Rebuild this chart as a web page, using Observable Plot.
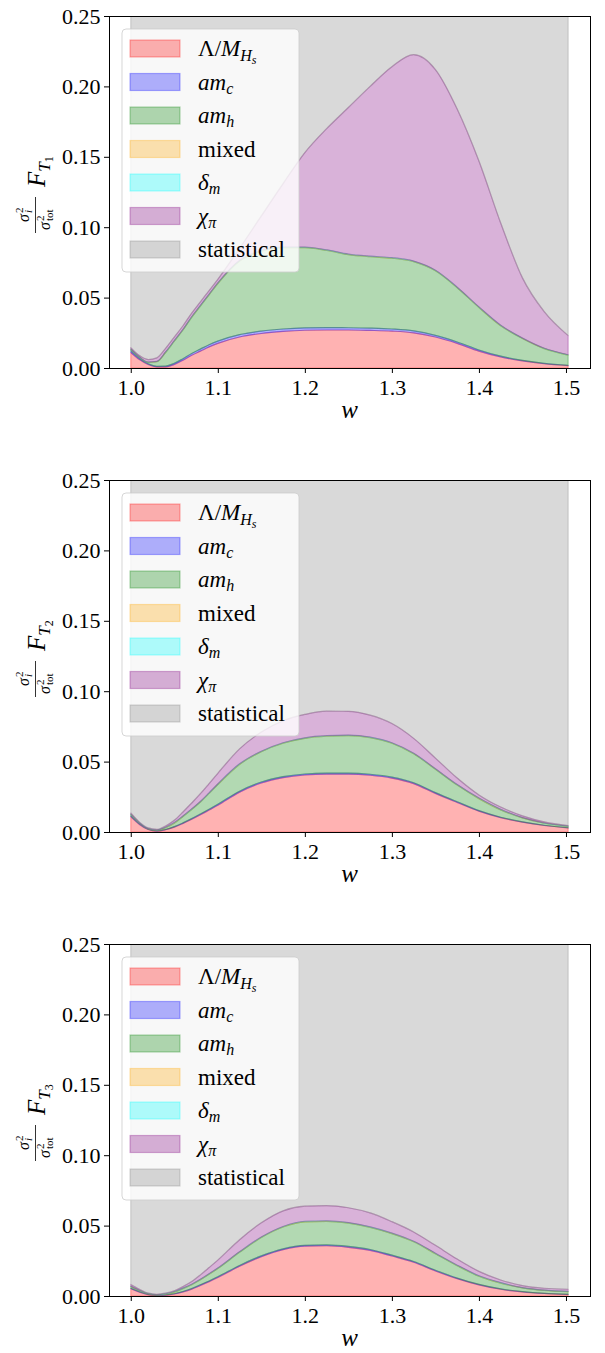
<!DOCTYPE html>
<html><head><meta charset="utf-8">
<script src="https://cdn.jsdelivr.net/npm/d3@7"></script>
<script src="https://cdn.jsdelivr.net/npm/@observablehq/plot@0.6"></script>
<style>
body{margin:0;background:#fff;}
#chart{width:605px;}
#chart svg{display:block;}
</style>
</head><body><div id="chart"></div>
<script>
// ---- data (fractions sigma_i^2 / sigma_tot^2) ----
const w = [1.000,1.010,1.020,1.030,1.040,1.050,1.060,1.070,1.080,1.090,1.100,1.125,1.150,1.175,1.200,1.225,1.250,1.275,1.300,1.325,1.350,1.375,1.400,1.425,1.450,1.475,1.5025];

// F_T1
const lam1   = [0.011,0.006,0.0025,0.0008,0.0008,0.0025,0.0055,0.009,0.012,0.015,0.0175,0.022,0.0245,0.026,0.0268,0.027,0.027,0.0267,0.0262,0.025,0.022,0.0175,0.012,0.0078,0.005,0.003,0.0017];
const amc1   = [0.0012,0.0008,0.0005,0.0004,0.0005,0.0008,0.0011,0.0013,0.0014,0.0015,0.0016,0.0017,0.0017,0.0017,0.0017,0.0017,0.0016,0.0016,0.0015,0.0014,0.0012,0.0010,0.0008,0.0006,0.0004,0.0003,0.0002];
const amh1   = [0.0011,0.0008,0.0010,0.0033,0.0097,0.0157,0.0204,0.0257,0.0306,0.0355,0.0409,0.0523,0.0568,0.0578,0.0570,0.0548,0.0519,0.0507,0.0503,0.0491,0.0458,0.0385,0.0302,0.0216,0.0156,0.0105,0.0073];
const mixed1 = [0.0001,0.0001,0.0001,0.0001,0.0002,0.0002,0.0002,0.0002,0.0002,0.0002,0.0002,0.0002,0.0002,0.0002,0.0002,0.0002,0.0002,0.0002,0.0002,0.0002,0.0002,0.0002,0.0002,0.0002,0.0001,0.0001,0.0001];
const dm1    = [0.0001,0.0001,0.0001,0.0001,0.0002,0.0002,0.0002,0.0002,0.0002,0.0002,0.0002,0.0002,0.0002,0.0002,0.0002,0.0002,0.0002,0.0002,0.0002,0.0002,0.0002,0.0002,0.0002,0.0002,0.0001,0.0001,0.0001];
const chi1   = [0.0010,0.0010,0.0018,0.0025,0.0026,0.0026,0.0026,0.0026,0.0026,0.0026,0.0026,0.0086,0.0246,0.0451,0.0671,0.0861,0.1041,0.1206,0.1356,0.1466,0.1426,0.1266,0.1036,0.0726,0.0428,0.0260,0.0136];
const stat1  = [0.9855,0.9912,0.994,0.9928,0.986,0.978,0.970,0.961,0.953,0.945,0.937,0.915,0.892,0.869,0.847,0.830,0.815,0.800,0.786,0.7775,0.788,0.816,0.853,0.897,0.936,0.960,0.977];

// F_T2
const lam2   = [0.0109,0.0054,0.0018,0.0006,0.0016,0.0035,0.0061,0.0090,0.0122,0.0156,0.0190,0.0283,0.0348,0.0386,0.0405,0.0411,0.0411,0.0403,0.0383,0.0344,0.0274,0.0210,0.0148,0.0102,0.0070,0.0046,0.0029];
const amc2   = [0.0006,0.0004,0.0002,0.0002,0.0002,0.0003,0.0004,0.0005,0.0006,0.0006,0.0007,0.0007,0.0007,0.0007,0.0007,0.0007,0.0007,0.0007,0.0007,0.0006,0.0006,0.0005,0.0004,0.0003,0.0002,0.0002,0.0001];
const amh2   = [0.0010,0.0004,0.0002,0.0004,0.0012,0.0025,0.0045,0.0065,0.0085,0.0112,0.0140,0.0190,0.0215,0.0237,0.0253,0.0262,0.0266,0.0260,0.0240,0.0205,0.0165,0.0118,0.0085,0.0052,0.0028,0.0014,0.0010];
const mixed2 = [0.0001,0.0001,0.0001,0.0001,0.0002,0.0002,0.0002,0.0002,0.0002,0.0002,0.0002,0.0002,0.0002,0.0002,0.0002,0.0002,0.0002,0.0002,0.0002,0.0002,0.0002,0.0002,0.0002,0.0002,0.0001,0.0001,0.0001];
const dm2    = [0.0001,0.0001,0.0001,0.0001,0.0002,0.0002,0.0002,0.0002,0.0002,0.0002,0.0002,0.0002,0.0002,0.0002,0.0002,0.0002,0.0002,0.0002,0.0002,0.0002,0.0002,0.0002,0.0002,0.0002,0.0001,0.0001,0.0001];
const chi2   = [0.0008,0.0006,0.0005,0.0005,0.0009,0.0016,0.0028,0.0042,0.0055,0.0066,0.0076,0.0106,0.0136,0.0156,0.0166,0.0174,0.0169,0.0156,0.0136,0.0106,0.0076,0.0046,0.0022,0.0016,0.0013,0.0008,0.0004];
const stat2  = [0.9865,0.993,0.997,0.9982,0.9968,0.991,0.986,0.979,0.972,0.965,0.958,0.941,0.929,0.921,0.9165,0.914,0.9143,0.917,0.923,0.934,0.947,0.962,0.974,0.9825,0.9885,0.9928,0.9955];

// F_T3
const lam3   = [0.0051,0.0027,0.0010,0.0004,0.0006,0.0014,0.0029,0.0049,0.0075,0.0102,0.0131,0.0211,0.0279,0.0329,0.0354,0.0357,0.0346,0.0324,0.0284,0.0240,0.0178,0.0123,0.0079,0.0048,0.0029,0.0018,0.0011];
const amc3   = [0.0004,0.0003,0.0002,0.0001,0.0002,0.0002,0.0003,0.0004,0.0005,0.0005,0.0006,0.0006,0.0006,0.0006,0.0006,0.0006,0.0006,0.0006,0.0006,0.0005,0.0005,0.0004,0.0003,0.0002,0.0002,0.0001,0.0001];
const amh3   = [0.0013,0.0008,0.0003,0.0002,0.0005,0.0012,0.0020,0.0027,0.0035,0.0047,0.0058,0.0093,0.0130,0.0155,0.0167,0.0167,0.0165,0.0157,0.0153,0.0140,0.0117,0.0088,0.0058,0.0041,0.0027,0.0021,0.0019];
const mixed3 = [0.0001,0.0001,0.0001,0.0001,0.0002,0.0002,0.0002,0.0002,0.0002,0.0002,0.0002,0.0002,0.0002,0.0002,0.0002,0.0002,0.0002,0.0002,0.0002,0.0002,0.0002,0.0002,0.0002,0.0002,0.0001,0.0001,0.0001];
const dm3    = [0.0001,0.0001,0.0001,0.0001,0.0002,0.0002,0.0002,0.0002,0.0002,0.0002,0.0002,0.0002,0.0002,0.0002,0.0002,0.0002,0.0002,0.0002,0.0002,0.0002,0.0002,0.0002,0.0002,0.0002,0.0001,0.0001,0.0001];
const chi3   = [0.0012,0.0008,0.0003,0.0003,0.0003,0.0005,0.0011,0.0019,0.0031,0.0044,0.0056,0.0086,0.0101,0.0111,0.0107,0.0108,0.0106,0.0099,0.0081,0.0066,0.0056,0.0043,0.0031,0.0019,0.0014,0.0013,0.0015];
const stat3  = [0.9918,0.9952,0.998,0.9988,0.998,0.9963,0.9933,0.9897,0.985,0.9798,0.9745,0.960,0.948,0.9395,0.9362,0.9358,0.9373,0.941,0.9472,0.9545,0.964,0.9738,0.9825,0.9886,0.9926,0.9945,0.9952];

const seriesKeys = ["lam","amc","amh","mixed","dm","chi","stat"];
const seriesColors = ["red","blue","green","orange","cyan","purple","gray"];
const xTicks = [1.0,1.1,1.2,1.3,1.4,1.5];
const yTicks = [0.00,0.05,0.10,0.15,0.20,0.25];
const panels = [
  {sub:"1", data:[lam1,amc1,amh1,mixed1,dm1,chi1,stat1]},
  {sub:"2", data:[lam2,amc2,amh2,mixed2,dm2,chi2,stat2]},
  {sub:"3", data:[lam3,amc3,amh3,mixed3,dm3,chi3,stat3]}
];

// pick an installed serif font by measuring text
function pickFont(cands) {
  const ctx = document.createElement("canvas").getContext("2d");
  const probe = "statistical 0.25 Mm";
  ctx.font = "40px monospace"; const mono = ctx.measureText(probe).width;
  ctx.font = "40px sans-serif"; const sans = ctx.measureText(probe).width;
  for (const c of cands) {
    ctx.font = `40px "${c}", monospace`; const a = ctx.measureText(probe).width;
    ctx.font = `40px "${c}", sans-serif`; const b = ctx.measureText(probe).width;
    if (a !== mono && b !== sans) return c;
    if (a !== mono && a === b) return c;
  }
  return null;
}
const picked = pickFont(["Liberation Serif","DejaVu Serif","Tinos","Times New Roman","Noto Serif","FreeSerif","Nimbus Roman","Times"]);
const FONT = picked ? `"${picked}", serif` : "serif";
const css = document.createElement("style");
css.textContent = `#chart svg, #chart svg text { font-family: ${FONT} !important; }`;
document.head.appendChild(css);

const root = document.getElementById("chart");

panels.forEach((p, pi) => {
  const rows = [];
  w.forEach((wv, i) => seriesKeys.forEach((k, j) => rows.push({w: wv, s: k, v: p.data[j][i]})));
  const H = pi < 2 ? 464 : 425;
  const svg = Plot.plot({
    width: 605, height: H,
    marginLeft: 109, marginRight: 15, marginTop: 16, marginBottom: H - 368,
    style: {fontSize: "22px", color: "black", background: "white", overflow: "visible"},
    x: {domain: [0.975, 1.5276]},
    y: {domain: [0, 0.25]},
    color: {domain: seriesKeys, range: seriesColors},
    marks: [
      Plot.areaY(rows, {x: "w", y: "v", z: "s", fill: "s", stroke: "s", order: seriesKeys,
        fillOpacity: 0.3, strokeOpacity: 0.3, strokeWidth: 1.2, curve: "monotone-x", clip: true}),
      Plot.frame({stroke: "black", strokeWidth: 1}),
      Plot.axisX({ticks: xTicks, tickFormat: d3.format(".1f"), tickSize: 5, tickPadding: 6, label: null, fontSize: 22}),
      Plot.axisY({ticks: yTicks, tickFormat: d3.format(".2f"), tickSize: 5, tickPadding: 4, label: null, fontSize: 22})
    ]
  });
  const s = d3.select(svg);

  // legend
  const lg = s.append("g").attr("font-size", 23).attr("text-anchor", "start");
  lg.append("rect").attr("x", 122).attr("y", 29).attr("width", 177).attr("height", 243).attr("rx", 4)
    .attr("fill", "white").attr("fill-opacity", 0.8).attr("stroke", "#cccccc").attr("stroke-opacity", 0.8);
  const labels = [
    [["Λ/",0,23,false],["M",0,23,true],["H",5,16,true],["s",3,12,true]],
    [["am",0,23,true],["c",4,16,true]],
    [["am",0,23,true],["h",4,16,true]],
    [["mixed",0,23,false]],
    [["δ",0,23,true],["m",4,16,true]],
    [["χ",0,23,true],["π",4,16,true]],
    [["statistical",0,23,false]]
  ];
  labels.forEach((parts, i) => {
    const cy = 48.5 + i * 33.5;
    lg.append("rect").attr("x", 130).attr("y", cy - 8.5).attr("width", 50).attr("height", 17)
      .attr("fill", seriesColors[i]).attr("fill-opacity", 0.3)
      .attr("stroke", seriesColors[i]).attr("stroke-opacity", 0.3).attr("stroke-width", 1.2);
    const t = lg.append("text").attr("x", 198).attr("y", cy + 7.5).attr("fill", "black").attr("text-anchor", "start");
    parts.forEach(([txt, dy, fs, it]) => {
      t.append("tspan").attr("dy", dy).attr("font-size", fs).attr("font-style", it ? "italic" : "normal").text(txt);
    });
  });

  // x label
  s.append("text").attr("x", 349.5).attr("y", 418).attr("text-anchor", "middle")
    .attr("font-size", 25).attr("font-style", "italic").attr("fill", "black").text("w");

  // y label (rotated)
  const g = s.append("g").attr("transform", "translate(0,192) rotate(-90)")
    .attr("fill", "black").attr("text-anchor", "start");
  const addT = (x, y, txt, fs, it) => g.append("text").attr("x", x).attr("y", y).attr("font-size", fs)
    .attr("text-anchor", "start").attr("font-style", it ? "italic" : "normal").text(txt);
  addT(-30, 29, "σ", 16, true);
  addT(-21, 23, "2", 11, false);
  addT(-21, 32, "i", 11, true);
  g.append("line").attr("x1", -41).attr("x2", -5).attr("y1", 35.5).attr("y2", 35.5).attr("stroke", "black").attr("stroke-width", 0.8);
  addT(-38, 50, "σ", 16, true);
  addT(-29, 44, "2", 11, false);
  addT(-29, 53, "tot", 11, false);
  const f = g.append("text").attr("x", 5).attr("y", 45).attr("font-size", 25).attr("text-anchor", "start");
  f.append("tspan").attr("font-style", "italic").text("F");
  f.append("tspan").attr("font-style", "italic").attr("font-size", 17).attr("dy", 5).text("T");
  f.append("tspan").attr("font-size", 12).attr("dy", 3).text(p.sub);

  root.appendChild(svg);
});
</script>
</body></html>
